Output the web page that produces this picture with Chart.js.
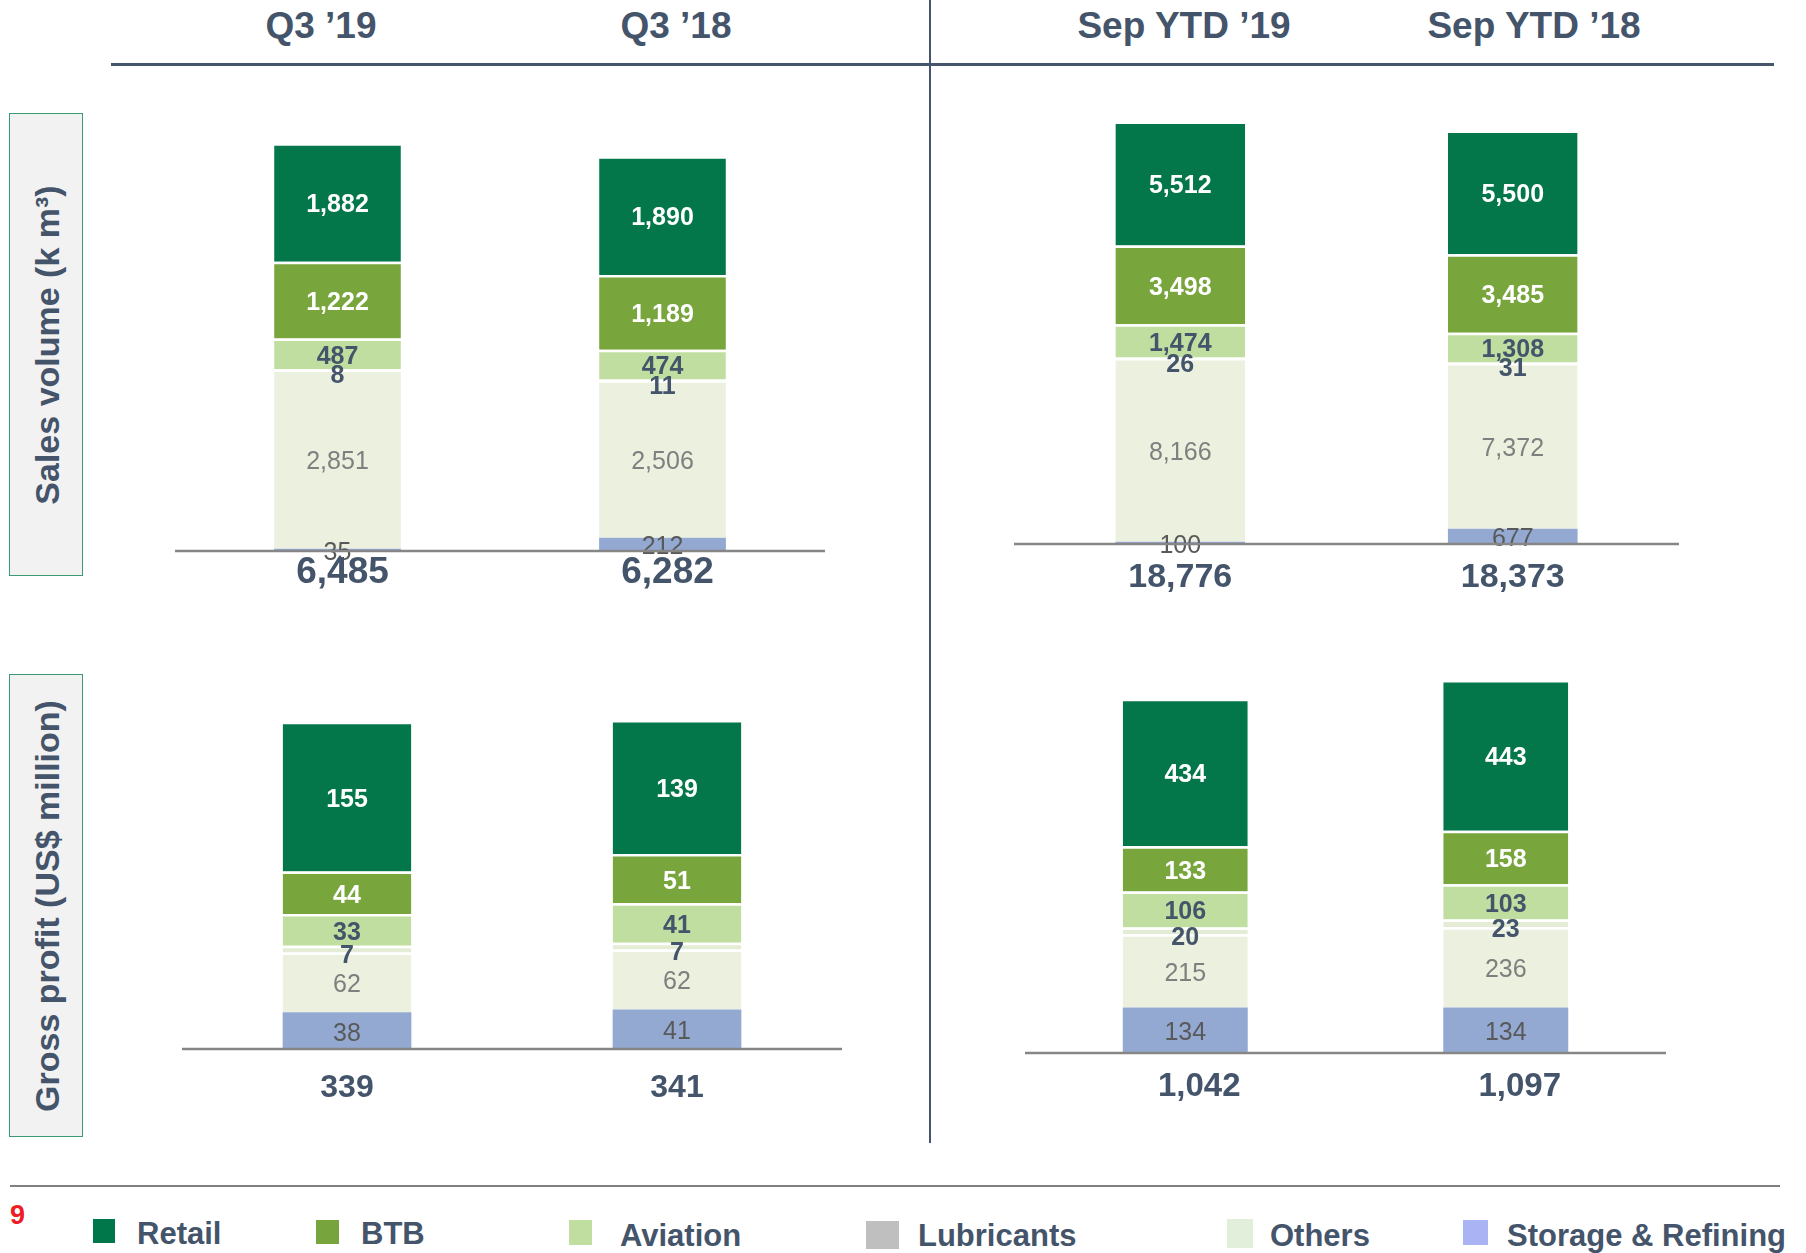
<!DOCTYPE html>
<html>
<head>
<meta charset="utf-8">
<script src="https://cdn.jsdelivr.net/npm/chart.js@4/dist/chart.umd.min.js"></script>
<style>
  html, body { margin: 0; padding: 0; background: #ffffff; }
  body { width: 1806px; height: 1253px; position: relative; overflow: hidden;
         font-family: "Liberation Sans", Arial, sans-serif; color: #44546a; }
  .abs { position: absolute; }
  canvas { position: absolute; }
  .hdr { position: absolute; font-weight: bold; font-size: 37px; line-height: 1; text-align: center; width: 400px; white-space: nowrap; }
  .ybox { position: absolute; left: 9px; width: 74px; background: #f2f2f2; border: 1.5px solid #3a9b73; box-sizing: border-box; }
  .ytitle { position: absolute; font-weight: bold; font-size: 34px; line-height: 1; white-space: nowrap; transform: translate(-50%, -50%) rotate(-90deg); }
  .lgsq { position: absolute; }
  .lgtx { position: absolute; font-weight: bold; font-size: 31px; line-height: 1; white-space: nowrap; }
</style>
</head>
<body>
<div id="page"></div>
<script>
// ---------- data ----------
const periods = ['Q3 \u201919', 'Q3 \u201918', 'Sep YTD \u201919', 'Sep YTD \u201918'];
const seriesNames = ['Retail', 'BTB', 'Aviation', 'Lubricants', 'Others', 'Storage & Refining'];

// Sales volume (k m³)
const volRetail     = [1882, 1890, 5512, 5500];
const volBTB        = [1222, 1189, 3498, 3485];
const volAviation   = [487, 474, 1474, 1308];
const volLubricants = [8, 11, 26, 31];
const volOthers     = [2851, 2506, 8166, 7372];
const volStorage    = [35, 212, 100, 677];

// Gross profit (US$ million)
const gpRetail     = [155, 139, 434, 443];
const gpBTB        = [44, 51, 133, 158];
const gpAviation   = [33, 41, 106, 103];
const gpLubricants = [7, 7, 20, 23];
const gpOthers     = [62, 62, 215, 236];
const gpStorage    = [38, 41, 134, 134];

const rowTitles = ['Sales volume (k m\u00B3)', 'Gross profit (US$ million)'];
const pageNumber = '9';

// ---------- styles ----------
const barColors    = ['#03774a', '#78a53c', '#c0de9f', '#e4ecd6', '#ebf0df', '#93a9d1'];
const legendColors = ['#00774a', '#77a43c', '#c0de9f', '#bfbfbf', '#e2efda', '#aab4f5'];
const labelColors  = ['#ffffff', '#ffffff', '#44546a', '#44546a', '#7f7f7f', '#595959'];
const labelWeights = ['bold', 'bold', 'bold', 'bold', 'normal', 'normal'];
const labelDy      = [3, 3, 3, 7, 3, 3];
const INK = '#44546a';

const page = document.getElementById('page');
function el(cls, css, text) {
  const d = document.createElement('div');
  d.className = cls;
  Object.assign(d.style, css);
  if (text !== undefined) d.textContent = text;
  page.appendChild(d);
  return d;
}

// header
const hdrCenters = [321, 676, 1184, 1534];
periods.forEach((p, i) => el('hdr', { left: (hdrCenters[i] - 200) + 'px', top: '7px' }, p));
el('abs', { left: '111px', top: '63px', width: '1663px', height: '3px', background: INK });
el('abs', { left: '929px', top: '0px', width: '2px', height: '1143px', background: INK });

// row title boxes
el('ybox', { top: '113px', height: '463px' });
el('ytitle', { left: '47px', top: '345px' }, rowTitles[0]);
el('ybox', { top: '674px', height: '463px' });
el('ytitle', { left: '47px', top: '906px' }, rowTitles[1]);

// footer
el('abs', { left: '10px', top: '1185px', width: '1770px', height: '2px', background: '#808080' });
el('abs', { left: '10px', top: '1202px', fontSize: '27px', fontWeight: 'bold', color: '#ee1c25', lineHeight: '1' }, pageNumber);

// legend
const lgSquares = [[93, 1219, 22, 24], [316, 1220, 23, 24], [569, 1220, 23, 25], [866, 1221, 33, 28], [1227, 1219, 26, 29], [1463, 1220, 25, 25]];
const lgText = [137, 361, 620, 918, 1270, 1507];
seriesNames.forEach((n, i) => {
  const s = lgSquares[i];
  el('lgsq', { left: s[0] + 'px', top: s[1] + 'px', width: s[2] + 'px', height: s[3] + 'px', background: legendColors[i] });
  el('lgtx', { left: lgText[i] + 'px', top: (i >= 2 ? 1220 : 1218) + 'px' }, n);
});

// ---------- charts ----------
const segLabelPlugin = {
  id: 'segLabels',
  afterDatasetsDraw(chart) {
    const ctx = chart.ctx;
    ctx.save();
    ctx.textAlign = 'center';
    ctx.textBaseline = 'middle';
    chart.data.datasets.forEach((ds, di) => {
      const meta = chart.getDatasetMeta(di);
      const si = ds.seriesIndex;
      ctx.fillStyle = labelColors[si];
      ctx.font = labelWeights[si] + ' 25px "Liberation Sans", Arial, sans-serif';
      meta.data.forEach((bar, j) => {
        const v = ds.data[j];
        const cy = (bar.y + bar.base) / 2 + labelDy[si];
        ctx.fillText(v.toLocaleString('en-US'), bar.x, cy);
      });
    });
    ctx.restore();
  }
};

const baseTotalsPlugin = {
  id: 'baseTotals',
  afterDraw(chart, args, opts) {
    const ctx = chart.ctx;
    const a = chart.chartArea;
    ctx.save();
    ctx.strokeStyle = '#868686';
    ctx.lineWidth = 2.5;
    ctx.beginPath();
    ctx.moveTo(a.left, a.bottom);
    ctx.lineTo(a.right, a.bottom);
    ctx.stroke();
    ctx.fillStyle = INK;
    ctx.textAlign = 'center';
    ctx.textBaseline = 'alphabetic';
    ctx.font = 'bold ' + opts.size + 'px "Liberation Sans", Arial, sans-serif';
    const xs = chart.scales.x;
    chart.data.labels.forEach((lab, j) => {
      let tot = 0;
      chart.data.datasets.forEach(ds => { tot += ds.data[j]; });
      ctx.fillText(tot.toLocaleString('en-US'), xs.getPixelForValue(j) + opts.dx, a.bottom + opts.dy);
    });
    ctx.restore();
  }
};

function makeChart(cfg) {
  const cv = document.createElement('canvas');
  cv.width = cfg.w;
  cv.height = cfg.h + 60;
  cv.style.left = cfg.x + 'px';
  cv.style.top = (cfg.bottom - cfg.h) + 'px';
  cv.style.width = cfg.w + 'px';
  cv.style.height = (cfg.h + 60) + 'px';
  page.appendChild(cv);
  const order = [5, 4, 3, 2, 1, 0]; // bottom to top: Storage, Others, Lubricants, Aviation, BTB, Retail
  const datasets = order.map(si => ({
    label: seriesNames[si],
    seriesIndex: si,
    data: cfg.series[si].slice(cfg.from, cfg.from + 2),
    backgroundColor: barColors[si],
    borderColor: '#ffffff',
    borderWidth: si === 5 ? 0 : { top: 2.5, bottom: 0, left: 0, right: 0 },
    borderSkipped: false,
    barPercentage: 0.39,
    categoryPercentage: 1.0
  }));
  new Chart(cv, {
    type: 'bar',
    data: { labels: periods.slice(cfg.from, cfg.from + 2), datasets },
    options: {
      responsive: false,
      animation: false,
      devicePixelRatio: 1,
      layout: { padding: { top: 0, left: 0, right: 0, bottom: 60 } },
      scales: {
        x: { display: false, stacked: true },
        y: { display: false, stacked: true, min: 0, max: cfg.max }
      },
      plugins: {
        legend: { display: false },
        tooltip: { enabled: false },
        baseTotals: { size: cfg.size, dx: cfg.dx, dy: cfg.dy }
      }
    },
    plugins: [segLabelPlugin, baseTotalsPlugin]
  });
}

const volSeries = [volRetail, volBTB, volAviation, volLubricants, volOthers, volStorage];
const gpSeries  = [gpRetail, gpBTB, gpAviation, gpLubricants, gpOthers, gpStorage];

makeChart({ series: volSeries, from: 0, x: 175,  w: 650, bottom: 551,  h: 440, max: 7000,  size: 37, dx: 5,  dy: 32 });
makeChart({ series: volSeries, from: 2, x: 1014, w: 665, bottom: 544,  h: 450, max: 20000, size: 34, dx: 0,  dy: 43 });
makeChart({ series: gpSeries,  from: 0, x: 182,  w: 660, bottom: 1049, h: 386, max: 400,   size: 32, dx: 0,  dy: 48 });
makeChart({ series: gpSeries,  from: 2, x: 1025, w: 641, bottom: 1053, h: 408, max: 1200,  size: 33, dx: 14, dy: 43 });
</script>
</body>
</html>
